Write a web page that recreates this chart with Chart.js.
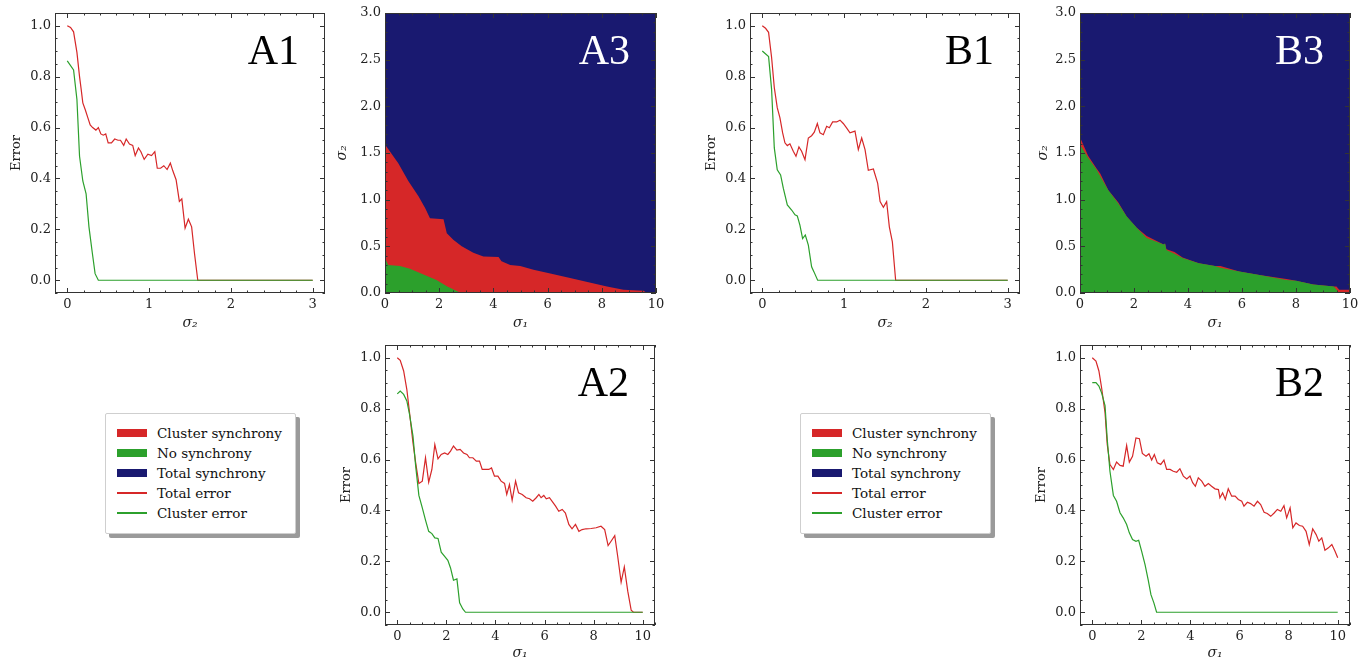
<!DOCTYPE html>
<html>
<head>
<meta charset="utf-8">
<script src="https://cdn.jsdelivr.net/npm/chart.js@4.4.1/dist/chart.umd.min.js"></script>
<style>
body { margin: 0; background: #fff; width: 1368px; height: 660px; position: relative; overflow: hidden; font-family: "DejaVu Serif", serif; }
canvas { position: absolute; }
.legend { position: absolute; width: 189px; height: 119px; border: 1px solid #cfcfcf; border-radius: 2px; background: #fff; box-shadow: 4px 4px 0 #9a9a9a; }
.legend .row { position: absolute; left: 0; height: 20px; width: 190px; }
.legend .sw { position: absolute; left: 11px; width: 30px; }
.legend .txt { position: absolute; left: 51px; top: 0; font-size: 13.5px; line-height: 20px; color: #111; white-space: nowrap; }
</style>
</head>
<body>
<canvas id="a1" width="340" height="330" style="left:0;top:0"></canvas>
<canvas id="a3" width="340" height="330" style="left:330px;top:0"></canvas>
<canvas id="a2" width="340" height="330" style="left:330px;top:330px"></canvas>
<canvas id="b1" width="340" height="330" style="left:690px;top:0"></canvas>
<canvas id="b3" width="348" height="330" style="left:1020px;top:0"></canvas>
<canvas id="b2" width="348" height="330" style="left:1020px;top:330px"></canvas>
<div class="legend" id="legA" style="left:105px;top:413px"></div>
<div class="legend" id="legB" style="left:800px;top:413px"></div>
<script>
const FONT = '"DejaVu Serif", serif';
const RED = '#d62728', GREEN = '#2ca02c', NAVY = '#191970';

// tick labels
const sigma2Ticks = [0, 1, 2, 3];
const sigma1Ticks = [0, 2, 4, 6, 8, 10];
const errorTicks = [0, 0.2, 0.4, 0.6, 0.8, 1.0];
const phaseTicks = [0, 0.5, 1.0, 1.5, 2.0, 2.5, 3.0];

// A1 : error vs sigma2
const a1TotalX = [0,0.04,0.077,0.118,0.15,0.17,0.19,0.22,0.25,0.28,0.31,0.35,0.38,0.41,0.44,0.47,0.50,0.54,0.58,0.62,0.65,0.69,0.72,0.76,0.80,0.83,0.87,0.90,0.94,0.985,1.03,1.07,1.10,1.14,1.18,1.22,1.26,1.29,1.33,1.37,1.40,1.44,1.48,1.52,1.555,1.595,3];
const a1Total = [1.0,0.993,0.976,0.895,0.80,0.75,0.697,0.67,0.64,0.61,0.60,0.59,0.60,0.575,0.57,0.575,0.54,0.54,0.555,0.55,0.55,0.53,0.555,0.535,0.53,0.49,0.52,0.505,0.475,0.495,0.49,0.505,0.44,0.44,0.45,0.435,0.46,0.43,0.395,0.31,0.32,0.205,0.24,0.21,0.105,0,0];
const a1ClusterX = [0,0.077,0.118,0.15,0.19,0.23,0.265,0.305,0.34,0.38,3];
const a1Cluster = [0.862,0.826,0.71,0.487,0.39,0.34,0.21,0.11,0.026,0,0];

// A2 : error vs sigma1
const a2TotalX = [0,0.12,0.26,0.39,0.5,0.64,0.75,0.88,1.02,1.15,1.28,1.41,1.53,1.66,1.79,1.93,2.06,2.17,2.29,2.43,2.56,2.7,2.84,2.94,3.08,3.22,3.35,3.46,3.6,3.73,3.84,3.96,4.1,4.23,4.37,4.46,4.57,4.68,4.82,4.94,5.09,5.25,5.39,5.52,5.66,5.77,5.86,5.97,6.07,6.2,6.31,6.45,6.58,6.72,6.85,6.99,7.12,7.26,7.4,7.53,7.69,7.9,8.1,8.3,8.45,8.59,8.71,8.86,8.98,9.12,9.25,9.39,9.53,9.62,10];
const a2Total = [1.0,0.99,0.948,0.875,0.784,0.666,0.587,0.506,0.515,0.607,0.511,0.561,0.659,0.603,0.62,0.626,0.62,0.633,0.653,0.637,0.64,0.626,0.62,0.607,0.607,0.594,0.594,0.561,0.561,0.561,0.567,0.535,0.535,0.515,0.506,0.463,0.502,0.44,0.515,0.469,0.463,0.45,0.446,0.436,0.45,0.463,0.45,0.459,0.446,0.45,0.436,0.417,0.397,0.404,0.39,0.345,0.328,0.345,0.318,0.325,0.328,0.329,0.332,0.338,0.325,0.262,0.279,0.301,0.22,0.118,0.178,0.083,0.008,0,0];
const a2ClusterX = [0,0.12,0.26,0.39,0.5,0.64,0.75,0.88,1.02,1.15,1.28,1.41,1.53,1.66,1.79,1.93,2.06,2.17,2.29,2.43,2.54,2.67,2.78,10];
const a2Cluster = [0.858,0.869,0.856,0.83,0.777,0.692,0.574,0.459,0.41,0.362,0.318,0.309,0.292,0.29,0.236,0.22,0.204,0.174,0.126,0.131,0.037,0.013,0,0];

// A3 : phase diagram boundaries (sigma2 at each sigma1)
const a3EdgeX = [0,0.49,0.86,1.23,1.48,1.66,2.16,2.28,2.52,2.83,3.26,3.63,4.19,4.3,4.62,4.99,5.48,6.1,6.83,8.19,8.8,9.54,9.67,10];
const a3ClusterEdge = [1.59,1.39,1.20,1.04,0.91,0.80,0.79,0.64,0.57,0.50,0.43,0.39,0.385,0.34,0.30,0.29,0.25,0.21,0.16,0.07,0.036,0.025,0,0];
const a3NoSyncX = [0,0.12,0.55,0.92,1.4,1.9,2.3,2.8,10];
const a3NoSyncEdge = [0.375,0.30,0.29,0.26,0.2,0.14,0.07,0,0];

// B1 : error vs sigma2
const b1TotalX = [0,0.04,0.077,0.114,0.147,0.183,0.216,0.249,0.277,0.306,0.338,0.379,0.412,0.448,0.481,0.522,0.563,0.603,0.636,0.673,0.705,0.746,0.787,0.82,0.86,0.909,0.95,0.99,1.03,1.072,1.133,1.174,1.215,1.256,1.296,1.358,1.41,1.44,1.48,1.52,1.553,1.59,1.63,3];
const b1Total = [1.0,0.99,0.974,0.875,0.757,0.678,0.638,0.579,0.54,0.529,0.536,0.507,0.487,0.524,0.507,0.474,0.559,0.568,0.582,0.616,0.579,0.572,0.605,0.599,0.622,0.622,0.629,0.616,0.599,0.579,0.586,0.513,0.559,0.513,0.432,0.437,0.382,0.309,0.287,0.309,0.21,0.151,0,0];
const b1ClusterX = [0,0.077,0.114,0.147,0.183,0.224,0.257,0.306,0.359,0.4,0.428,0.46,0.493,0.526,0.563,0.603,0.632,0.677,3];
const b1Cluster = [0.901,0.879,0.75,0.52,0.434,0.414,0.362,0.296,0.276,0.257,0.253,0.217,0.164,0.178,0.138,0.053,0.033,0,0];

// B2 : error vs sigma1
const b2TotalX = [0,0.15,0.27,0.38,0.52,0.61,0.72,0.86,0.99,1.13,1.26,1.4,1.51,1.64,1.78,1.92,2.04,2.19,2.31,2.42,2.53,2.65,2.79,2.92,3.03,3.17,3.3,3.44,3.57,3.71,3.85,3.98,4.09,4.2,4.32,4.46,4.59,4.73,4.86,5.0,5.14,5.2,5.31,5.42,5.54,5.68,5.82,5.95,6.09,6.18,6.32,6.45,6.59,6.73,6.86,7.0,7.13,7.27,7.41,7.54,7.68,7.81,7.92,8.06,8.17,8.3,8.44,8.57,8.71,8.84,8.98,9.12,9.23,9.35,9.48,9.62,9.76,9.89,10];
const b2Total = [1.0,0.987,0.948,0.882,0.784,0.659,0.58,0.561,0.59,0.577,0.574,0.655,0.59,0.613,0.685,0.682,0.624,0.613,0.623,0.598,0.62,0.587,0.581,0.598,0.561,0.561,0.554,0.55,0.564,0.535,0.524,0.535,0.509,0.495,0.528,0.515,0.495,0.506,0.495,0.485,0.482,0.45,0.469,0.443,0.485,0.456,0.456,0.443,0.436,0.417,0.432,0.427,0.417,0.436,0.423,0.393,0.388,0.377,0.39,0.404,0.397,0.419,0.371,0.41,0.332,0.351,0.341,0.338,0.318,0.266,0.328,0.305,0.279,0.292,0.244,0.253,0.266,0.24,0.214];
const b2ClusterX = [0,0.15,0.27,0.38,0.52,0.61,0.72,0.86,0.99,1.13,1.26,1.4,1.51,1.64,1.78,1.89,2.01,2.15,2.28,2.39,2.51,2.62,10];
const b2Cluster = [0.902,0.902,0.889,0.862,0.812,0.679,0.554,0.459,0.436,0.391,0.371,0.345,0.312,0.286,0.279,0.283,0.24,0.187,0.126,0.069,0.037,0,0];

// B3 : phase diagram boundaries
const b3EdgeX = [0,0.3,0.62,0.75,1.05,1.42,1.73,2.1,2.47,3.1,3.15,3.2,3.5,3.8,4.4,5.0,5.2,5.9,6.7,7.65,8.0,8.64,9.4,9.5,9.6,10];
const b3ClusterEdge = [1.67,1.47,1.33,1.28,1.10,0.97,0.82,0.70,0.61,0.52,0.53,0.47,0.44,0.38,0.32,0.29,0.29,0.23,0.19,0.15,0.13,0.09,0.07,0.07,0.035,0.035];
const b3NoSyncEdge = [1.59,1.45,1.32,1.25,1.10,0.96,0.82,0.70,0.59,0.52,0.53,0.46,0.42,0.375,0.32,0.29,0.27,0.23,0.19,0.14,0.13,0.09,0.07,0.035,0,0];

// whole sigma range is total synchrony underneath
const fullX = [0, 10];
const fullTop = [3, 3];

const legendLabels = ['Cluster synchrony', 'No synchrony', 'Total synchrony', 'Total error', 'Cluster error'];
const legendColors = [RED, GREEN, NAVY, RED, GREEN];
const legendKinds = ['patch', 'patch', 'patch', 'line', 'line'];

function pts(xs, ys) {
    return xs.map((x, i) => ({x: x, y: ys[i]}));
}

// inward ticks on all four sides + frame
const frameTicks = {
    id: 'frameTicks',
    afterDatasetsDraw(chart, args, opts) {
        const ctx = chart.ctx;
        const a = chart.chartArea;
        const x = chart.scales.x, y = chart.scales.y;
        const isMajor = (scale, v) => scale.ticks.some(t => Math.abs(t.value - v) < 1e-6);
        ctx.save();
        ctx.strokeStyle = '#333';
        ctx.lineWidth = 1;
        ctx.beginPath();
        const xMark = (v, len) => {
            const px = Math.round(x.getPixelForValue(v)) + 0.5;
            ctx.moveTo(px, a.bottom); ctx.lineTo(px, a.bottom - len);
            ctx.moveTo(px, a.top); ctx.lineTo(px, a.top + len);
        };
        const yMark = (v, len) => {
            const py = Math.round(y.getPixelForValue(v)) + 0.5;
            ctx.moveTo(a.left, py); ctx.lineTo(a.left + len, py);
            ctx.moveTo(a.right, py); ctx.lineTo(a.right - len, py);
        };
        x.ticks.forEach(t => xMark(t.value, 5));
        y.ticks.forEach(t => yMark(t.value, 5));
        for (let n = Math.ceil(x.min / opts.xMinor - 1e-6); n * opts.xMinor <= x.max + 1e-6; n++) {
            const v = n * opts.xMinor;
            if (!isMajor(x, v)) xMark(v, 2.5);
        }
        for (let n = Math.ceil(y.min / opts.yMinor - 1e-6); n * opts.yMinor <= y.max + 1e-6; n++) {
            const v = n * opts.yMinor;
            if (!isMajor(y, v)) yMark(v, 2.5);
        }
        ctx.stroke();
        ctx.strokeRect(Math.round(a.left) + 0.5, Math.round(a.top) + 0.5, Math.round(a.width) - 1, Math.round(a.height) - 1);
        ctx.restore();
    }
};

const panelLabel = {
    id: 'panelLabel',
    afterDraw(chart, args, opts) {
        const ctx = chart.ctx;
        const a = chart.chartArea;
        ctx.save();
        ctx.font = '42px "Liberation Serif"';
        ctx.fillStyle = opts.color;
        ctx.textAlign = 'right';
        ctx.textBaseline = 'alphabetic';
        ctx.fillText(opts.text, a.right - 26, a.top + 51);
        ctx.restore();
    }
};

function makeChart(id, p, datasets) {
    const titleFont = (italic) => ({family: FONT, size: italic ? 14 : 13, style: italic ? 'italic' : 'normal', lineHeight: italic ? 1 : 1.2});
    return new Chart(document.getElementById(id), {
        type: 'line',
        data: {datasets: datasets},
        plugins: [frameTicks, panelLabel],
        options: {
            responsive: false,
            animation: false,
            devicePixelRatio: 1,
            layout: {padding: {left: 0, top: p.top, right: p.right, bottom: 0}},
            elements: {point: {radius: 0}, line: {tension: 0}},
            scales: {
                x: {
                    type: 'linear', min: p.xMin, max: p.xMax,
                    afterBuildTicks: s => { s.ticks = p.xTicks.map(v => ({value: v})); },
                    afterFit: s => { s.height = p.xH; },
                    grid: {display: false, drawTicks: false},
                    border: {display: false},
                    ticks: {autoSkip: false, maxRotation: 0, padding: 4, color: '#222', font: {family: FONT, size: 13}, callback: v => v.toFixed(p.xDigits)},
                    title: {display: true, text: p.xTitle, color: '#222', font: titleFont(true), padding: {top: 0, bottom: 0}}
                },
                y: {
                    type: 'linear', min: p.yMin, max: p.yMax,
                    afterBuildTicks: s => { s.ticks = p.yTicks.map(v => ({value: v})); },
                    afterFit: s => { s.width = p.yW; },
                    grid: {display: false, drawTicks: false},
                    border: {display: false},
                    ticks: {autoSkip: false, padding: 4, color: '#222', font: {family: FONT, size: 13}, callback: v => v.toFixed(1)},
                    title: {display: true, text: p.yTitle, color: '#222', font: titleFont(p.yTitle !== 'Error'), padding: {top: p.yPad, bottom: 0}}
                }
            },
            plugins: {
                legend: {display: false},
                tooltip: {enabled: false},
                frameTicks: {xMinor: p.xMinor, yMinor: p.yMinor},
                panelLabel: {text: p.label, color: p.labelColor}
            }
        }
    });
}

function errorSets(tx, ty, cx, cy) {
    return [
        {label: 'Cluster error', data: pts(cx, cy), borderColor: GREEN, borderWidth: 1.2, fill: false},
        {label: 'Total error', data: pts(tx, ty), borderColor: RED, borderWidth: 1.2, fill: false}
    ];
}

function phaseSets(ex, clusterEdge, nx, noSyncEdge) {
    return [
        {label: 'No synchrony', data: pts(nx, noSyncEdge), borderWidth: 0, backgroundColor: GREEN, fill: 'origin'},
        {label: 'Cluster synchrony', data: pts(ex, clusterEdge), borderWidth: 0, backgroundColor: RED, fill: 'origin'},
        {label: 'Total synchrony', data: pts(fullX, fullTop), borderWidth: 0, backgroundColor: NAVY, fill: 'origin'}
    ];
}

const sig2Err = {xMin: -0.15, xMax: 3.15, xTicks: sigma2Ticks, xDigits: 0, xMinor: 0.2, xTitle: 'σ₂',
    yMin: -0.05, yMax: 1.05, yTicks: errorTicks, yMinor: 0.05, yTitle: 'Error', labelColor: '#000'};
const sig1Err = {xMin: -0.5, xMax: 10.5, xTicks: sigma1Ticks, xDigits: 0, xMinor: 0.5, xTitle: 'σ₁',
    yMin: -0.05, yMax: 1.05, yTicks: errorTicks, yMinor: 0.05, yTitle: 'Error', labelColor: '#000'};
const phase = {xMin: 0, xMax: 10, xTicks: sigma1Ticks, xDigits: 0, xMinor: 0.5, xTitle: 'σ₁',
    yMin: 0, yMax: 3, yTicks: phaseTicks, yMinor: 0.1, yTitle: 'σ₂', labelColor: '#fff'};

makeChart('a1', Object.assign({}, sig2Err, {label: 'A1', top: 13, right: 15, yW: 55, xH: 37, yPad: 9}),
    errorSets(a1TotalX, a1Total, a1ClusterX, a1Cluster));
makeChart('a3', Object.assign({}, phase, {label: 'A3', top: 13, right: 14, yW: 55, xH: 37, yPad: 5}),
    phaseSets(a3EdgeX, a3ClusterEdge, a3NoSyncX, a3NoSyncEdge));
makeChart('a2', Object.assign({}, sig1Err, {label: 'A2', top: 15, right: 15, yW: 55, xH: 35, yPad: 9}),
    errorSets(a2TotalX, a2Total, a2ClusterX, a2Cluster));
makeChart('b1', Object.assign({}, sig2Err, {label: 'B1', top: 13, right: 10, yW: 60, xH: 37, yPad: 14}),
    errorSets(b1TotalX, b1Total, b1ClusterX, b1Cluster));
makeChart('b3', Object.assign({}, phase, {label: 'B3', top: 13, right: 18, yW: 60, xH: 37, yPad: 16}),
    phaseSets(b3EdgeX, b3ClusterEdge, b3EdgeX, b3NoSyncEdge));
makeChart('b2', Object.assign({}, sig1Err, {label: 'B2', top: 15, right: 18, yW: 60, xH: 35, yPad: 14}),
    errorSets(b2TotalX, b2Total, b2ClusterX, b2Cluster));

// legends
['legA', 'legB'].forEach(id => {
    const box = document.getElementById(id);
    legendLabels.forEach((txt, i) => {
        const row = document.createElement('div');
        row.className = 'row';
        row.style.top = (9 + i * 20) + 'px';
        const sw = document.createElement('div');
        sw.className = 'sw';
        sw.style.background = legendColors[i];
        if (legendKinds[i] === 'patch') { sw.style.top = '6px'; sw.style.height = '8px'; }
        else { sw.style.top = '9px'; sw.style.height = '1.5px'; }
        const t = document.createElement('span');
        t.className = 'txt';
        t.textContent = txt;
        row.appendChild(sw);
        row.appendChild(t);
        box.appendChild(row);
    });
});
</script>
</body>
</html>
